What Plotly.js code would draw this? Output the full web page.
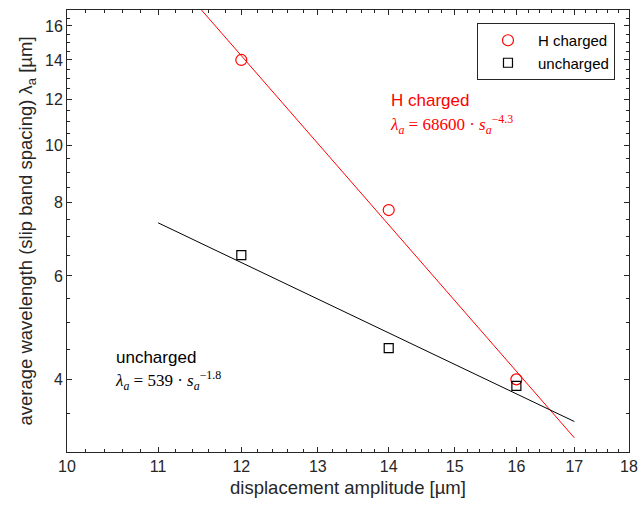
<!DOCTYPE html>
<html>
<head>
<meta charset="utf-8">
<script src="https://cdn.plot.ly/plotly-3.0.1.min.js"></script>
<style>html,body{margin:0;padding:0;background:#fff;}#chart{width:640px;height:506px;}</style>
</head>
<body>
<div id="chart"></div>
<script>
// Measured data
const amplitude = [12, 14, 16];
const hCharged = [14.0, 7.77, 4.0];
const uncharged = [6.51, 4.52, 3.9];

// Fitted power-law lines (end points)
const hFitX = [11, 17];
const hFitY = [20.7, 3.18];
const uFitX = [11, 17];
const uFitY = [7.39, 3.39];

// Tick labels
const xTicks = [10, 11, 12, 13, 14, 15, 16, 17, 18];
const yTicks = [4, 6, 8, 10, 12, 14, 16];

const xMinor = [];
for (let v = 10; v <= 18.001; v += 0.2) xMinor.push(+v.toFixed(1));
const yMinor = [];
for (let v = 3; v <= 17.001; v += 0.5) yMinor.push(+v.toFixed(1));

const axisColor = '#262626';
const sans = 'Liberation Sans, Arial, sans-serif';
const serif = 'Liberation Serif, DejaVu Serif, serif';
const tickFont = {family: sans, size: 16, color: axisColor};

const traces = [
  {x: hFitX, y: hFitY, mode: 'lines', line: {color: '#ff0000', width: 1}, showlegend: false, hoverinfo: 'skip'},
  {x: uFitX, y: uFitY, mode: 'lines', line: {color: '#000000', width: 1}, showlegend: false, hoverinfo: 'skip'},
  {x: amplitude, y: hCharged, mode: 'markers', name: 'H charged',
   marker: {symbol: 'circle-open', size: 11, color: '#ff0000', line: {width: 1.2}}},
  {x: amplitude, y: uncharged, mode: 'markers', name: 'uncharged',
   marker: {symbol: 'square-open', size: 9, color: '#000000', line: {width: 1.2}}}
];

const layout = {
  width: 640, height: 506,
  margin: {l: 67, r: 11, t: 10, b: 54},
  paper_bgcolor: '#fff', plot_bgcolor: '#fff',
  font: {family: sans, color: axisColor},
  xaxis: {
    type: 'log', range: [Math.log10(10), Math.log10(18)],
    tickmode: 'array', tickvals: xTicks, ticktext: xTicks.map(String),
    ticks: 'inside', ticklen: 5, tickwidth: 1, tickcolor: axisColor,
    showline: true, linecolor: axisColor, linewidth: 1, mirror: 'ticks',
    showgrid: false, zeroline: false, tickfont: tickFont,
    minor: {tickmode: 'array', tickvals: xMinor, ticks: 'inside', ticklen: 3, tickcolor: axisColor, showgrid: false},
    title: {text: 'displacement amplitude [µm]', font: {size: 18.5, color: axisColor}, standoff: 6}
  },
  yaxis: {
    type: 'log', range: [Math.log10(3.008), Math.log10(17.03)],
    tickmode: 'array', tickvals: yTicks, ticktext: yTicks.map(String),
    ticks: 'inside', ticklen: 5, tickwidth: 1, tickcolor: axisColor,
    showline: true, linecolor: axisColor, linewidth: 1, mirror: 'ticks',
    showgrid: false, zeroline: false, tickfont: tickFont,
    minor: {tickmode: 'array', tickvals: yMinor, ticks: 'inside', ticklen: 3, tickcolor: axisColor, showgrid: false},
    title: {text: 'average wavelength (slip band spacing) λ<sub>a</sub> [µm]', font: {size: 18.5, color: axisColor}, standoff: 7}
  },
  legend: {
    x: 0.7295, y: 0.9706, xanchor: 'left', yanchor: 'top',
    bgcolor: '#fff', bordercolor: axisColor, borderwidth: 1,
    font: {size: 15, color: '#000'}, itemwidth: 50, tracegroupgap: 0
  },
  annotations: [
    {xref: 'paper', yref: 'paper', x: (389 - 67) / 562, y: (452 - 100) / 442, xanchor: 'left', yanchor: 'middle',
     text: 'H charged', showarrow: false, font: {size: 17, color: '#ff0000'}},
    {xref: 'paper', yref: 'paper', x: (388 - 67) / 562, y: (452 - 125) / 442, xanchor: 'left', yanchor: 'middle',
     text: '<i>λ</i><sub><i>a</i></sub> = 68600 · <i>s</i><sub><i>a</i></sub><sup>−4.3</sup>', showarrow: false,
     font: {size: 17, color: '#ff0000', family: serif}},
    {xref: 'paper', yref: 'paper', x: (114 - 67) / 562, y: (452 - 357) / 442, xanchor: 'left', yanchor: 'middle',
     text: 'uncharged', showarrow: false, font: {size: 17, color: '#000'}},
    {xref: 'paper', yref: 'paper', x: (113 - 67) / 562, y: (452 - 380) / 442, xanchor: 'left', yanchor: 'middle',
     text: '<i>λ</i><sub><i>a</i></sub> = 539 · <i>s</i><sub><i>a</i></sub><sup>−1.8</sup>', showarrow: false,
     font: {size: 17, color: '#000', family: serif}}
  ]
};

Plotly.newPlot('chart', traces, layout, {staticPlot: true, displayModeBar: false});
</script>
</body>
</html>
